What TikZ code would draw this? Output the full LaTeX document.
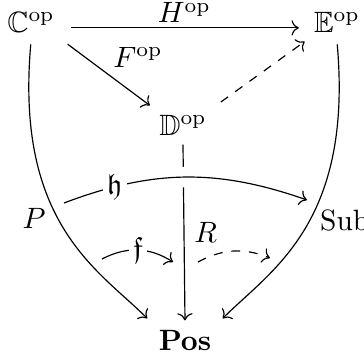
\documentclass[tikz,border=0pt]{standalone}
\usepackage{amssymb}
\usepackage{tikz}
\usetikzlibrary{cd}

\begin{document}
\begin{tikzpicture}[
  x=0.34pt, y=0.34pt,
  obj/.style={inner sep=3pt},
  mor/.style={arrows={-cm to}, line width=0.4pt},
  desc/.style={fill=white, inner sep=1.5pt},
  gap/.style={preaction={draw=white, line width=7pt, -}},
]
\useasboundingbox (0,0) rectangle (364,355);

% Objects
\node[obj] (C) at (31,333) {$\mathbb{C}^{\mathrm{op}}$};
\node[obj] (E) at (337,333) {$\mathbb{E}^{\mathrm{op}}$};
\node[obj] (D) at (183,230) {$\mathbb{D}^{\mathrm{op}}$};
\node[obj] (Pos) at (185,15) {$\mathbf{Pos}$};

% Top triangle
\draw[mor, shorten <=2.5pt, shorten >=2pt] ([yshift=-2pt]C.east) -- ([yshift=-2pt]E.west)
  node[midway, above, inner sep=1.5pt] {$H^{\mathrm{op}}$};
\draw[mor, shorten <=1.5pt] (C.south east) -- (D.north west)
  node[midway, above right, inner sep=2pt] {$F^{\mathrm{op}}$};
\draw[mor, dashed, shorten <=2pt] (D.north east) -- (E.south west);

% Down to Pos
\draw[mor] (D.south) -- (Pos.north)
  node[midway, right] {$R$};
\draw[mor, shorten <=1pt, shorten >=1pt] (C.south)
  to[out=-95, in=135, out looseness=1.55, in looseness=0.6]
  node[pos=0.45, left, inner sep=4pt] {$P$} (Pos.north west);
\draw[mor, shorten <=1pt, shorten >=1pt] (E.south)
  to[out=-85, in=45, out looseness=1.55, in looseness=0.6]
  node[pos=0.46, right, inner sep=3.5pt] {$\mathrm{Sub}$} (Pos.north east);

% 2-cells
\coordinate (hs) at (64,152);
\coordinate (ht) at (307,155);
\coordinate (fs) at (102,96);
\coordinate (ft) at (173,93);
\coordinate (gs) at (198,93);
\coordinate (gt) at (270,97);
\draw[mor, gap] (hs) to[bend left=20] node[pos=0.2, desc] {$\mathfrak{h}$} (ht);
\draw[mor] (fs) to[bend left=30] node[midway, desc] {$\mathfrak{f}$} (ft);
\draw[mor, dashed] (gs) to[bend left=25] (gt);

\end{tikzpicture}
\end{document}
